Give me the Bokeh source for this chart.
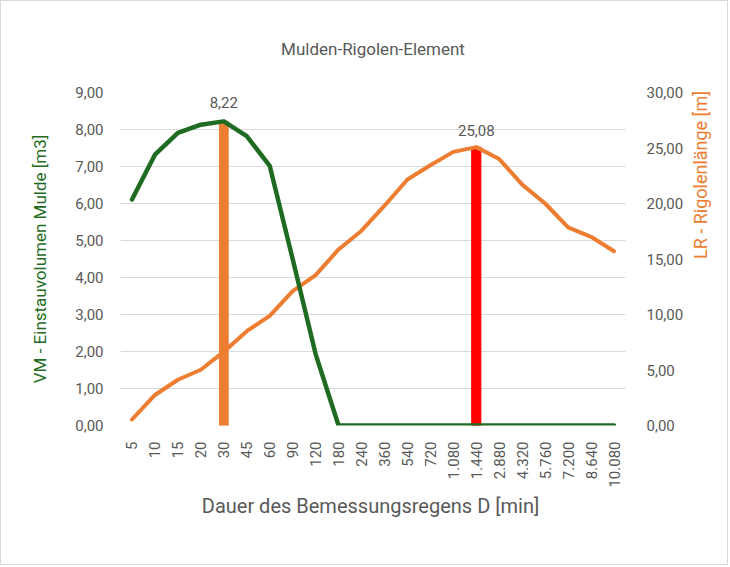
import math
from bokeh.plotting import figure
from bokeh.models import Range1d, LinearAxis, CustomJSTickFormatter, FactorRange, FixedTicker
from bokeh.core.properties import value
from bokeh.embed import file_html
from bokeh.resources import INLINE

# ---- data ----
durations = ["5", "10", "15", "20", "30", "45", "60", "90", "120", "180", "240", "360",
             "540", "720", "1.080", "1.440", "2.880", "4.320", "5.760", "7.200", "8.640", "10.080"]
vm_volume = [6.11, 7.32, 7.91, 8.13, 8.22, 7.82, 7.02, 4.50, 1.93, 0.0, 0.0, 0.0,
             0.0, 0.0, 0.0, 0.0, 0.0, 0.0, 0.0, 0.0, 0.0, 0.0]
lr_length = [0.54, 2.75, 4.12, 5.02, 6.65, 8.50, 9.88, 12.10, 13.55, 15.86, 17.55, 19.80,
             22.16, 23.45, 24.65, 25.08, 24.00, 21.70, 20.00, 17.85, 17.00, 15.70]
left_ticks = [0, 1, 2, 3, 4, 5, 6, 7, 8, 9]
right_ticks = [0, 5, 10, 15, 20, 25, 30]

GREEN = "#1F6B22"
ORANGE = "#ED7D31"
RED = "#FF0000"
GRAY = "#595959"
FONT = "Roboto"

i_vm = max(range(len(vm_volume)), key=lambda i: vm_volume[i])
i_lr = max(range(len(lr_length)), key=lambda i: lr_length[i])

p = figure(width=728, height=565, x_range=FactorRange(*durations, range_padding=0),
           y_range=Range1d(left_ticks[0], left_ticks[-1]),
           output_backend="svg", toolbar_location=None,
           min_border_left=119, min_border_right=104, min_border_top=91, min_border_bottom=141)
p.extra_y_ranges = {"right": Range1d(right_ticks[0], right_ticks[-1])}
p.styles = {"border": "1px solid #D9D9D9"}

fmt = CustomJSTickFormatter(code="return tick.toFixed(2).replace('.', ',');")

p.title.text = "Mulden-Rigolen-Element"
p.title.align = "center"
p.title.text_font = FONT
p.title.text_font_size = "17px"
p.title.text_font_style = "normal"
p.title.text_color = GRAY
p.title.standoff = 67

p.outline_line_color = None
p.xgrid.grid_line_color = None
p.ygrid.grid_line_color = "#D9D9D9"
p.ygrid.grid_line_width = 1
p.ygrid.ticker = left_ticks


def plain(axis):
    axis.axis_line_color = None
    axis.major_tick_line_color = None
    axis.minor_tick_line_color = None


# left axis (ticks)
ya = p.yaxis[0]
ya.ticker = left_ticks
ya.formatter = fmt
plain(ya)
ya.major_label_standoff = 11
ya.major_label_text_font = FONT
ya.major_label_text_font_size = "15px"
ya.major_label_text_color = GRAY

# left axis title on its own tick-less axis
yl = LinearAxis(ticker=FixedTicker(ticks=[]), bounds=(1.08, 9.0),
                major_tick_out=0, major_tick_in=0, minor_tick_out=0, minor_tick_in=0)
plain(yl)
yl.axis_label = "VM - Einstauvolumen Mulde [m3]"
yl.axis_label_text_font = FONT
yl.axis_label_text_font_size = "17px"
yl.axis_label_text_font_style = "normal"
yl.axis_label_text_color = GREEN
yl.axis_label_standoff = 23
p.add_layout(yl, "left")

# right axis (ticks)
ra = LinearAxis(y_range_name="right", ticker=right_ticks, formatter=fmt)
plain(ra)
ra.major_label_standoff = 15
ra.major_label_text_font = FONT
ra.major_label_text_font_size = "15px"
ra.major_label_text_color = GRAY
p.add_layout(ra, "right")

# right axis title on its own tick-less axis
rl = LinearAxis(y_range_name="right", ticker=FixedTicker(ticks=[]), bounds=(0.0, 9.4),
                major_tick_out=0, major_tick_in=0, minor_tick_out=0, minor_tick_in=0)
plain(rl)
rl.axis_label = "LR - Rigolenlänge [m]"
rl.axis_label_text_font = FONT
rl.axis_label_text_font_size = "18px"
rl.axis_label_text_font_style = "normal"
rl.axis_label_text_color = ORANGE
rl.axis_label_standoff = 14
rl.axis_label_orientation = math.pi / 2
p.add_layout(rl, "right")

# x axis
xa = p.xaxis[0]
plain(xa)
xa.major_label_orientation = math.pi / 2
xa.major_label_standoff = 10
xa.major_label_text_font = FONT
xa.major_label_text_font_size = "15px"
xa.major_label_text_color = GRAY
xa.axis_label = "Dauer des Bemessungsregens  D [min]"
xa.axis_label_text_font = FONT
xa.axis_label_text_font_size = "20px"
xa.axis_label_text_font_style = "normal"
xa.axis_label_text_color = GRAY
xa.axis_label_standoff = 3

# bars marking the maxima
p.vbar(x=[durations[i_vm]], top=[vm_volume[i_vm]], width=0.38, color=ORANGE)
p.vbar(x=[durations[i_lr]], top=[lr_length[i_lr]], width=0.40, color=RED, y_range_name="right")

# lines
p.line(durations, lr_length, line_color=ORANGE, line_width=4, y_range_name="right",
       line_join="round", line_cap="round")
p.line(durations, vm_volume, line_color=GREEN, line_width=4.5,
       line_join="round", line_cap="round")

# value labels
p.text(x=[durations[i_vm]], y=[vm_volume[i_vm]], y_offset=-13,
       text=[f"{vm_volume[i_vm]:.2f}".replace(".", ",")],
       text_align="center", text_baseline="bottom",
       text_font=value(FONT), text_font_size="15px", text_color=GRAY)
p.text(x=[durations[i_lr]], y=[lr_length[i_lr]], y_offset=-11, y_range_name="right",
       text=[f"{lr_length[i_lr]:.2f}".replace(".", ",")],
       text_align="center", text_baseline="bottom",
       text_font=value(FONT), text_font_size="15px", text_color=GRAY)

open("out.html", "w").write(file_html(p, INLINE))
